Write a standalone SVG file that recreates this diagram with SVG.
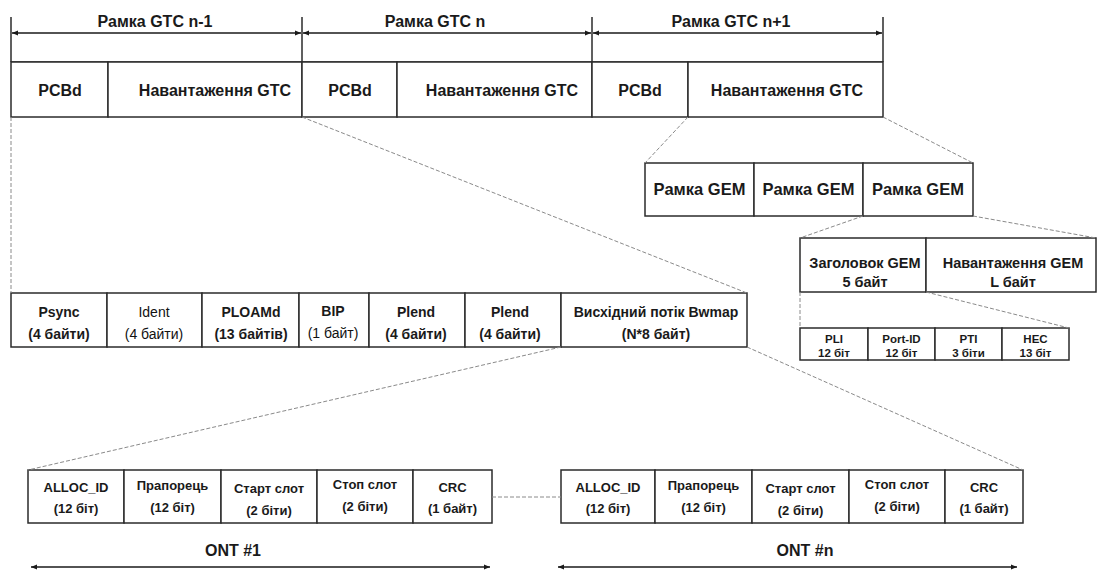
<svg xmlns="http://www.w3.org/2000/svg" width="1099" height="570" viewBox="0 0 1099 570">
  <defs>
    <style>
      .cell { fill: #ffffff; stroke: #2b2b2b; stroke-width: 1.5; }
      .tick { stroke: #2b2b2b; stroke-width: 1.5; fill: none; }
      .span { stroke: #1a1a1a; stroke-width: 1.3; fill: none; marker-start: url(#head); marker-end: url(#head); }
      .dash { stroke: #8a8a8a; stroke-width: 1; stroke-dasharray: 4 2; fill: none; }
      text { font-family: "Liberation Sans", Arial, sans-serif; fill: #1a1a1a; text-anchor: middle; font-weight: bold; }
      .lbl { font-size: 16px; }
      .big { font-size: 16px; }
      .gem { font-size: 16.5px; }
      .hdr { font-size: 14.5px; }
      .fld { font-size: 14px; }
      .lt { font-weight: normal; fill: #111111; }
      .sub { font-size: 11.5px; }
      .ont { font-size: 13px; }
      .cap { font-size: 16px; }
    </style>
    <marker id="head" viewBox="0 0 10 10" refX="10" refY="5" markerWidth="7" markerHeight="6" markerUnits="userSpaceOnUse" orient="auto-start-reverse">
      <path d="M0,1 L10,5 L0,9 Z" fill="#1a1a1a"/>
    </marker>
  </defs>

  <!-- GTC frame boundaries and spans -->
  <g id="gtc-spans">
    <line class="tick" x1="11" y1="17" x2="11" y2="62"/>
    <line class="tick" x1="302" y1="17" x2="302" y2="62"/>
    <line class="tick" x1="592" y1="17" x2="592" y2="62"/>
    <line class="tick" x1="883" y1="17" x2="883" y2="62"/>
    <line class="span" x1="12" y1="33" x2="301" y2="33"/>
    <line class="span" x1="303" y1="33" x2="591" y2="33"/>
    <line class="span" x1="593" y1="33" x2="882" y2="33"/>
    <text class="lbl" x="155" y="27">Рамка GTC n-1</text>
    <text class="lbl" x="435" y="27">Рамка GTC n</text>
    <text class="lbl" x="731" y="27">Рамка GTC n+1</text>
  </g>
  <line class="tick" x1="11" y1="62" x2="883" y2="62"/>

  <!-- GTC frames -->
  <g id="gtc-n-1-pcbd"><rect class="cell" x="11" y="62" width="97" height="55"/><text class="big" x="60" y="96">PCBd</text></g>
  <g id="gtc-n-1-payload"><rect class="cell" x="108" y="62" width="194" height="55"/><text class="big" x="215" y="96">Навантаження  GTC</text></g>
  <g id="gtc-n-pcbd"><rect class="cell" x="302" y="62" width="95" height="55"/><text class="big" x="350" y="96">PCBd</text></g>
  <g id="gtc-n-payload"><rect class="cell" x="397" y="62" width="195" height="55"/><text class="big" x="502" y="96">Навантаження  GTC</text></g>
  <g id="gtc-n1-pcbd"><rect class="cell" x="592" y="62" width="96" height="55"/><text class="big" x="640" y="96">PCBd</text></g>
  <g id="gtc-n1-payload"><rect class="cell" x="688" y="62" width="195" height="55"/><text class="big" x="787" y="96">Навантаження  GTC</text></g>

  <!-- GEM frames -->
  <g id="gem-1"><rect class="cell" x="645" y="163" width="109" height="53"/><text class="gem" x="699.5" y="195">Рамка GEM</text></g>
  <g id="gem-2"><rect class="cell" x="754" y="163" width="109" height="53"/><text class="gem" x="808.5" y="195">Рамка GEM</text></g>
  <g id="gem-3"><rect class="cell" x="863" y="163" width="110" height="53"/><text class="gem" x="918" y="195">Рамка GEM</text></g>

  <!-- GEM header / payload -->
  <g id="gem-header"><rect class="cell" x="800" y="238" width="126" height="54"/>
    <text class="hdr" x="865" y="268">Заголовок GEM</text><text class="hdr" x="865" y="287">5 байт</text></g>
  <g id="gem-payload"><rect class="cell" x="926" y="238" width="170" height="54"/>
    <text class="hdr" x="1013" y="268">Навантаження GEM</text><text class="hdr" x="1013" y="287">L байт</text></g>

  <!-- GEM header fields -->
  <g id="gem-pli"><rect class="cell" x="800" y="328" width="68" height="32"/><text class="sub" x="834" y="343">PLI</text><text class="sub" x="834" y="357">12 біт</text></g>
  <g id="gem-portid"><rect class="cell" x="868" y="328" width="67" height="32"/><text class="sub" x="901.5" y="343">Port-ID</text><text class="sub" x="901.5" y="357">12 біт</text></g>
  <g id="gem-pti"><rect class="cell" x="935" y="328" width="67" height="32"/><text class="sub" x="968.5" y="343">PTI</text><text class="sub" x="968.5" y="357">3 біти</text></g>
  <g id="gem-hec"><rect class="cell" x="1002" y="328" width="67" height="32"/><text class="sub" x="1035.5" y="343">HEC</text><text class="sub" x="1035.5" y="357">13 біт</text></g>

  <!-- PCBd fields -->
  <g id="f-psync"><rect class="cell" x="11" y="293" width="96" height="54"/><text class="fld" x="59" y="317">Psync</text><text class="fld" x="59" y="339">(4 байти)</text></g>
  <g id="f-ident"><rect class="cell" x="107" y="293" width="95" height="54"/><text class="fld lt" x="154" y="317">Ident</text><text class="fld lt" x="154" y="339">(4 байти)</text></g>
  <g id="f-ploamd"><rect class="cell" x="202" y="293" width="97" height="54"/><text class="fld" x="251" y="317">PLOAMd</text><text class="fld" x="251" y="339">(13 байтів)</text></g>
  <g id="f-bip"><rect class="cell" x="299" y="293" width="70" height="54"/><text class="fld" x="333" y="316">BIP</text><text class="fld lt" x="333" y="338">(1 байт)</text></g>
  <g id="f-plend-1"><rect class="cell" x="369" y="293" width="96" height="54"/><text class="fld" x="416" y="317">Plend</text><text class="fld" x="416" y="339">(4 байти)</text></g>
  <g id="f-plend-2"><rect class="cell" x="465" y="293" width="96" height="54"/><text class="fld" x="510" y="317">Plend</text><text class="fld" x="510" y="339">(4 байти)</text></g>
  <g id="f-bwmap"><rect class="cell" x="561" y="293" width="186" height="54"/><text class="fld" x="656" y="317">Висхідний потік Bwmap</text><text class="fld" x="656" y="339">(N*8 байт)</text></g>

  <!-- ONT #1 allocation -->
  <g id="ont1-alloc"><rect class="cell" x="28" y="470" width="96" height="53"/><text class="ont" x="76" y="492">ALLOC_ID</text><text class="ont" x="76" y="513">(12 біт)</text></g>
  <g id="ont1-flag"><rect class="cell" x="124" y="470" width="97" height="53"/><text class="ont" x="172.5" y="490">Прапорець</text><text class="ont" x="172.5" y="512">(12 біт)</text></g>
  <g id="ont1-start"><rect class="cell" x="221" y="470" width="96" height="53"/><text class="ont" x="269" y="493">Старт слот</text><text class="ont" x="269" y="515">(2 біти)</text></g>
  <g id="ont1-stop"><rect class="cell" x="317" y="470" width="96" height="53"/><text class="ont" x="365" y="489">Стоп слот</text><text class="ont" x="365" y="511">(2 біти)</text></g>
  <g id="ont1-crc"><rect class="cell" x="413" y="470" width="79" height="53"/><text class="ont" x="452.5" y="492">CRC</text><text class="ont" x="452.5" y="513">(1 байт)</text></g>
  <g id="ont1-span">
    <line class="span" x1="31" y1="567" x2="490" y2="567"/>
    <text class="cap" x="233" y="556">ONT #1</text>
  </g>

  <!-- ONT #n allocation -->
  <g id="ontn-alloc"><rect class="cell" x="561" y="470" width="94" height="53"/><text class="ont" x="608" y="492">ALLOC_ID</text><text class="ont" x="608" y="513">(12 біт)</text></g>
  <g id="ontn-flag"><rect class="cell" x="655" y="470" width="97" height="53"/><text class="ont" x="703.5" y="490">Прапорець</text><text class="ont" x="703.5" y="512">(12 біт)</text></g>
  <g id="ontn-start"><rect class="cell" x="752" y="470" width="97" height="53"/><text class="ont" x="800.5" y="493">Старт слот</text><text class="ont" x="800.5" y="515">(2 біти)</text></g>
  <g id="ontn-stop"><rect class="cell" x="849" y="470" width="96" height="53"/><text class="ont" x="897" y="489">Стоп слот</text><text class="ont" x="897" y="511">(2 біти)</text></g>
  <g id="ontn-crc"><rect class="cell" x="945" y="470" width="78" height="53"/><text class="ont" x="984" y="492">CRC</text><text class="ont" x="984" y="513">(1 байт)</text></g>
  <g id="ontn-span">
    <line class="span" x1="558" y1="567" x2="1017" y2="567"/>
    <text class="cap" x="805" y="556">ONT #n</text>
  </g>

  <!-- expansion connectors -->
  <g id="connectors">
    <line class="dash" x1="11" y1="117" x2="11" y2="293"/>
    <line class="dash" x1="302" y1="117" x2="747" y2="293"/>
    <line class="dash" x1="688" y1="117" x2="645" y2="163"/>
    <line class="dash" x1="883" y1="117" x2="973" y2="163"/>
    <line class="dash" x1="863" y1="216" x2="800" y2="238"/>
    <line class="dash" x1="973" y1="216" x2="1096" y2="238"/>
    <line class="dash" x1="800" y1="292" x2="800" y2="328"/>
    <line class="dash" x1="926" y1="292" x2="1069" y2="328"/>
    <line class="dash" x1="561" y1="347" x2="28" y2="470"/>
    <line class="dash" x1="747" y1="347" x2="1023" y2="470"/>
    <line class="dash" x1="492" y1="497" x2="561" y2="497"/>
  </g>
</svg>
